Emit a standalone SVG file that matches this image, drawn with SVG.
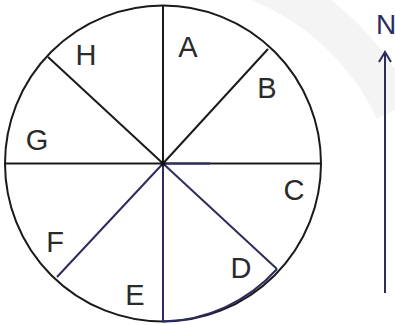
<svg xmlns="http://www.w3.org/2000/svg" width="395" height="325" viewBox="0 0 395 325">
<defs>
<style>
.k{stroke:#1a1a1a;stroke-width:2;fill:none}
.n{stroke:#2c2c5e;stroke-width:2;fill:none}
.t{font-family:"Liberation Sans",Arial,sans-serif;font-size:29px;fill:#2a2a2a}
</style>
</defs>
<rect width="395" height="325" fill="#fff"/>
<path d="M255 -20 A260 260 0 0 1 395 110" stroke="#f4f4f4" stroke-width="40" fill="none"/>
<g id="connectors">
<circle class="k" cx="163" cy="163.5" r="158"/>
<path class="n" d="M163 321.5 A158 158 0 0 0 277 269"/>
<line class="k" x1="163" y1="5.5" x2="163" y2="163.5"/>
<line class="n" x1="163" y1="163.5" x2="163" y2="321.5"/>
<line class="k" x1="5" y1="163.5" x2="321" y2="163.5"/>
<line class="n" x1="163" y1="163.5" x2="210" y2="163.5"/>
<line class="k" x1="163" y1="163.5" x2="268" y2="49"/>
<line class="k" x1="163" y1="163.5" x2="48" y2="57"/>
<line class="n" x1="163" y1="163.5" x2="57" y2="277"/>
<line class="n" x1="163" y1="163.5" x2="277" y2="269"/>
<circle cx="163" cy="163.5" r="2.5" fill="#111"/>
</g>
<g id="A"><text class="t" x="188" y="57" text-anchor="middle">A</text></g>
<g id="B"><text class="t" x="267" y="98" text-anchor="middle">B</text></g>
<g id="C"><text class="t" x="294" y="200" text-anchor="middle">C</text></g>
<g id="D"><text class="t" x="241" y="278" text-anchor="middle">D</text></g>
<g id="E"><text class="t" x="135" y="305" text-anchor="middle">E</text></g>
<g id="F"><text class="t" x="55" y="252" text-anchor="middle">F</text></g>
<g id="G"><text class="t" x="37" y="150" text-anchor="middle">G</text></g>
<g id="H"><text class="t" x="86" y="65" text-anchor="middle">H</text></g>
<g id="north">
<text x="386" y="34" text-anchor="middle" style="font-family:'Liberation Sans',Arial,sans-serif;font-size:28px;fill:#2c2c5e">N</text>
<line class="n" x1="385" y1="293" x2="385" y2="52"/>
<polyline class="n" points="379,62 385,52 391,62"/>
</g>
</svg>
